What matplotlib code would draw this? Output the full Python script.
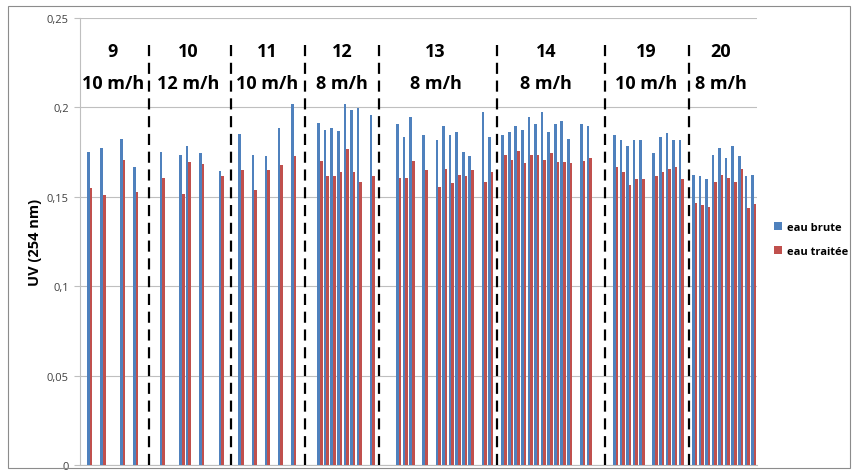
import numpy as np
import matplotlib.pyplot as plt
from matplotlib.patches import Rectangle

# category index -> (eau brute, eau traitee); indices not listed have no bars
idx = [0, 2, 5, 7,
       11, 14, 15, 17, 20,
       23, 25, 27, 29, 31,
       35, 36, 37, 38, 39, 40, 41, 43,
       47, 48, 49, 51, 53, 54, 55, 56, 57, 58, 60, 61,
       63, 64, 65, 66, 67, 68, 69, 70, 71, 72, 73, 75, 76,
       80, 81, 82, 83, 84, 86, 87, 88, 89, 90,
       92, 93, 94, 95, 96, 97, 98, 99, 100, 101]
brute = [0.175, 0.1775, 0.1825, 0.1665,
         0.175, 0.1736, 0.1784, 0.1745, 0.1646,
         0.1849, 0.1736, 0.1726, 0.1887, 0.2017,
         0.1915, 0.1875, 0.1887, 0.1866, 0.2017, 0.1987, 0.1996, 0.1955,
         0.1907, 0.1834, 0.1944, 0.1847, 0.1816, 0.1896, 0.1847, 0.1864, 0.1752, 0.1726, 0.1976, 0.1834,
         0.1847, 0.1864, 0.1896, 0.1875, 0.1944, 0.1907, 0.1976, 0.1864, 0.1907, 0.1924, 0.1825, 0.1907, 0.1896,
         0.1847, 0.1816, 0.1786, 0.1816, 0.1816, 0.1747, 0.1834, 0.1856, 0.1816, 0.1816,
         0.1624, 0.1615, 0.1598, 0.1736, 0.1775, 0.1717, 0.1786, 0.1726, 0.1615, 0.162]
traitee = [0.155, 0.151, 0.1706, 0.1525,
           0.1605, 0.1516, 0.1697, 0.1686, 0.1615,
           0.1648, 0.1536, 0.1648, 0.1678, 0.1726,
           0.1698, 0.1615, 0.1615, 0.1637, 0.1767, 0.1637, 0.1585, 0.1615,
           0.1605, 0.1605, 0.1698, 0.1648, 0.1557, 0.1656, 0.1575, 0.1624, 0.1615, 0.1648, 0.1585, 0.1637,
           0.1736, 0.1706, 0.1754, 0.1687, 0.1736, 0.1736, 0.1706, 0.1745, 0.1697, 0.1697, 0.1687, 0.1698, 0.1717,
           0.1665, 0.1637, 0.1566, 0.1598, 0.1598, 0.1615, 0.1637, 0.1656, 0.1665, 0.1598,
           0.1468, 0.1454, 0.1445, 0.1585, 0.1624, 0.1605, 0.1585, 0.1658, 0.1438, 0.146]

n_cat = 102
sections = ['9', '10', '11', '12', '13', '14', '19', '20']
speeds = ['10 m/h', '12 m/h', '10 m/h', '8 m/h', '8 m/h', '8 m/h', '10 m/h', '8 m/h']
label_x = [3.5, 14.9, 27.0, 38.4, 52.6, 69.4, 84.6, 96.0]
separators = [9.0, 21.4, 32.8, 44.0, 61.9, 78.4, 91.2]

x = np.array(idx)
fig = plt.figure(figsize=(8.53, 4.77), dpi=100)
ax = fig.add_axes([80/853, 11/477, 677/853, 447/477])

ax.bar(x - 0.2, brute, width=0.4, color='#4F81BD', label='eau brute', zorder=3)
ax.bar(x + 0.2, traitee, width=0.4, color='#C0504D', label='eau traitée', zorder=3)

for s in separators:
    ax.plot([s, s], [0, 0.236], color='black', lw=1.6, linestyle=(0, (5, 3)), zorder=4)

for lx, sec, sp in zip(label_x, sections, speeds):
    ax.text(lx, 0.2313, sec, ha='center', va='center', fontsize=13,
            fontweight='bold', family='Open Sans')
    ax.text(lx, 0.2134, sp, ha='center', va='center', fontsize=13,
            fontweight='bold', family='Open Sans')

ax.set_xlim(-1.5, n_cat - 0.5)
ax.set_ylim(0, 0.25)
yt = [0, 0.05, 0.1, 0.15, 0.2, 0.25]
ax.set_yticks(yt)
ax.set_yticklabels(['0', '0,05', '0,1', '0,15', '0,2', '0,25'], fontsize=8,
                   color='#404040', family='Open Sans')
ax.set_xticks([])
ax.tick_params(axis='y', length=4, color='#BFBFBF', pad=4)
ax.grid(axis='y', color='#BFBFBF', lw=0.8, zorder=0)
for side in ['top', 'right']:
    ax.spines[side].set_visible(False)
ax.spines['left'].set_color('#BFBFBF')
ax.spines['bottom'].set_color('#BFBFBF')

ax.set_ylabel('UV (254 nm)', fontsize=10.5, fontweight='bold', family='Open Sans')
ax.yaxis.set_label_coords(-0.056, 0.5)

leg = ax.legend(loc='center left', bbox_to_anchor=(1.01, 0.505), frameon=False,
                prop={'family': 'Open Sans', 'weight': 'bold', 'size': 8},
                handlelength=0.7, handleheight=0.7, labelspacing=1.2, handletextpad=0.5)

fig.patches.append(Rectangle((8/853, 8/477), 842/853, 462/477, transform=fig.transFigure,
                             fill=False, edgecolor='#8C8C8C', lw=0.8))

fig.savefig('out.png', dpi=100)
